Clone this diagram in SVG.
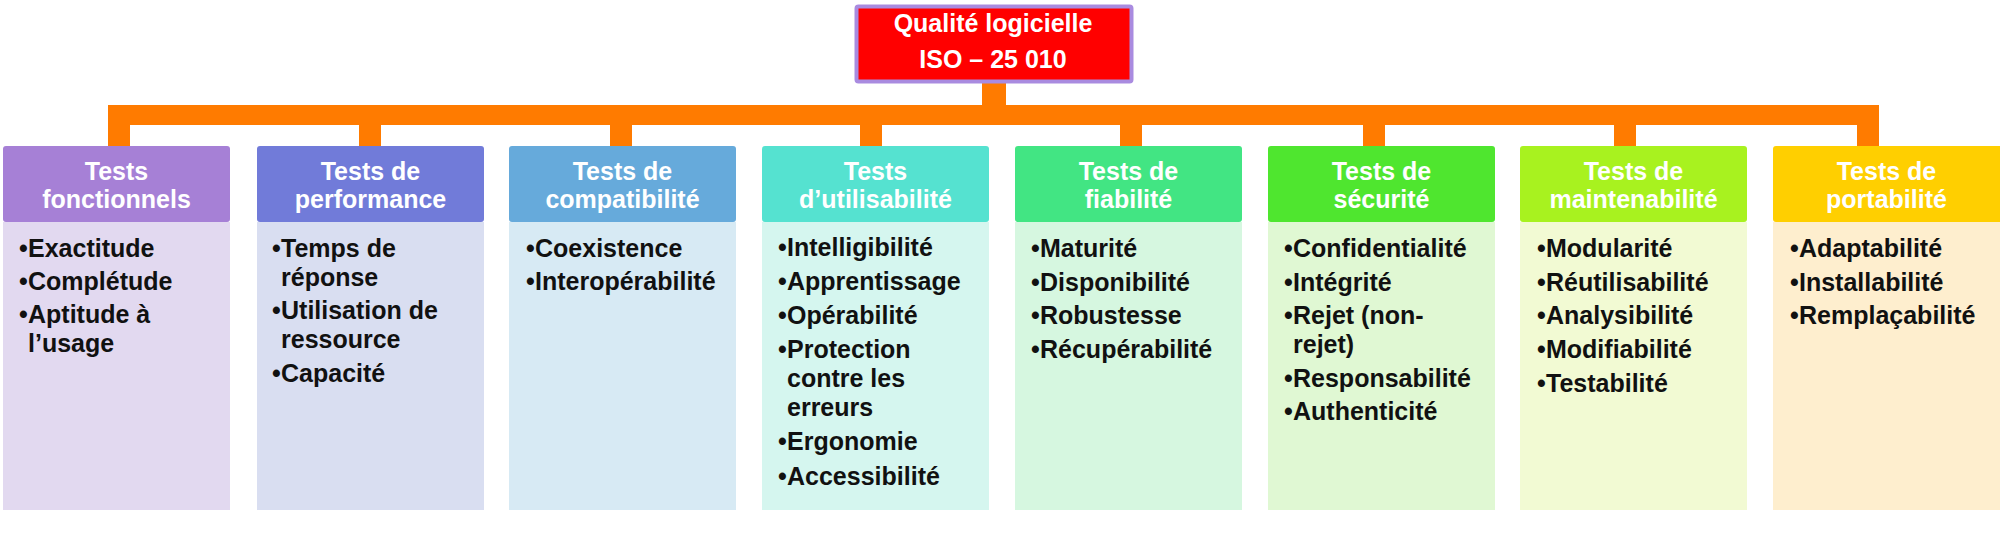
<svg xmlns="http://www.w3.org/2000/svg" width="2000" height="540" viewBox="0 0 2000 540">
<style>
text{font-family:"Liberation Sans",Arial,Helvetica,sans-serif;font-weight:bold;font-size:25px}
.hd{fill:#ffffff;text-anchor:middle}
.bd{fill:#111111}
.con{fill:#FF7B00}
</style>
<rect width="2000" height="540" fill="#ffffff"/>
<g id="connectors">
<rect class="con" x="982" y="82" width="24" height="24"/>
<rect class="con" x="108" y="105" width="1771" height="20"/>
<rect class="con" x="108" y="105" width="22" height="42"/>
<rect class="con" x="359" y="124" width="22" height="23"/>
<rect class="con" x="610" y="124" width="22" height="23"/>
<rect class="con" x="860" y="124" width="22" height="23"/>
<rect class="con" x="1120" y="124" width="22" height="23"/>
<rect class="con" x="1363" y="124" width="22" height="23"/>
<rect class="con" x="1614" y="124" width="22" height="23"/>
<rect class="con" x="1857" y="105" width="22" height="42"/>
</g>
<g id="root">
<rect x="856.5" y="6.5" width="275" height="75" fill="#FF0000" stroke="#A98BE0" stroke-width="4" rx="2"/>
<text class="hd" x="993" y="32">Qualité logicielle</text>
<text class="hd" x="993" y="68">ISO – 25 010</text>
</g>
<g id="n1">
<rect x="3" y="222" width="227" height="288" fill="#E2D9F0"/>
<rect x="3" y="146" width="227" height="76" rx="3" fill="#A680D6"/>
<text class="hd" x="116.5" y="180">Tests</text>
<text class="hd" x="116.5" y="208">fonctionnels</text>
<text class="bd"><tspan x="19" y="257">•</tspan><tspan x="28" y="257">Exactitude</tspan><tspan x="19" y="290">•</tspan><tspan x="28" y="290">Complétude</tspan><tspan x="19" y="323">•</tspan><tspan x="28" y="323">Aptitude à</tspan><tspan x="28" y="352">l’usage</tspan></text>
</g>
<g id="n2">
<rect x="257" y="222" width="227" height="288" fill="#D9DEF1"/>
<rect x="257" y="146" width="227" height="76" rx="3" fill="#717BD9"/>
<text class="hd" x="370.5" y="180">Tests de</text>
<text class="hd" x="370.5" y="208">performance</text>
<text class="bd"><tspan x="272" y="257">•</tspan><tspan x="281" y="257">Temps de</tspan><tspan x="281" y="286">réponse</tspan><tspan x="272" y="319">•</tspan><tspan x="281" y="319">Utilisation de</tspan><tspan x="281" y="348">ressource</tspan><tspan x="272" y="382">•</tspan><tspan x="281" y="382">Capacité</tspan></text>
</g>
<g id="n3">
<rect x="509" y="222" width="227" height="288" fill="#D7EAF4"/>
<rect x="509" y="146" width="227" height="76" rx="3" fill="#66AADB"/>
<text class="hd" x="622.5" y="180">Tests de</text>
<text class="hd" x="622.5" y="208">compatibilité</text>
<text class="bd"><tspan x="526" y="257">•</tspan><tspan x="535" y="257">Coexistence</tspan><tspan x="526" y="290">•</tspan><tspan x="535" y="290">Interopérabilité</tspan></text>
</g>
<g id="n4">
<rect x="762" y="222" width="227" height="288" fill="#D5F6EF"/>
<rect x="762" y="146" width="227" height="76" rx="3" fill="#55E2D0"/>
<text class="hd" x="875.5" y="180">Tests</text>
<text class="hd" x="875.5" y="208">d’utilisabilité</text>
<text class="bd"><tspan x="778" y="256">•</tspan><tspan x="787" y="256">Intelligibilité</tspan><tspan x="778" y="290">•</tspan><tspan x="787" y="290">Apprentissage</tspan><tspan x="778" y="324">•</tspan><tspan x="787" y="324">Opérabilité</tspan><tspan x="778" y="358">•</tspan><tspan x="787" y="358">Protection</tspan><tspan x="787" y="387">contre les</tspan><tspan x="787" y="416">erreurs</tspan><tspan x="778" y="450">•</tspan><tspan x="787" y="450">Ergonomie</tspan><tspan x="778" y="485">•</tspan><tspan x="787" y="485">Accessibilité</tspan></text>
</g>
<g id="n5">
<rect x="1015" y="222" width="227" height="288" fill="#D6F7E0"/>
<rect x="1015" y="146" width="227" height="76" rx="3" fill="#42E583"/>
<text class="hd" x="1128.5" y="180">Tests de</text>
<text class="hd" x="1128.5" y="208">fiabilité</text>
<text class="bd"><tspan x="1031" y="257">•</tspan><tspan x="1040" y="257">Maturité</tspan><tspan x="1031" y="291">•</tspan><tspan x="1040" y="291">Disponibilité</tspan><tspan x="1031" y="324">•</tspan><tspan x="1040" y="324">Robustesse</tspan><tspan x="1031" y="358">•</tspan><tspan x="1040" y="358">Récupérabilité</tspan></text>
</g>
<g id="n6">
<rect x="1268" y="222" width="227" height="288" fill="#E0F8D3"/>
<rect x="1268" y="146" width="227" height="76" rx="3" fill="#4FE62F"/>
<text class="hd" x="1381.5" y="180">Tests de</text>
<text class="hd" x="1381.5" y="208">sécurité</text>
<text class="bd"><tspan x="1284" y="257">•</tspan><tspan x="1293" y="257">Confidentialité</tspan><tspan x="1284" y="291">•</tspan><tspan x="1293" y="291">Intégrité</tspan><tspan x="1284" y="324">•</tspan><tspan x="1293" y="324">Rejet (non-</tspan><tspan x="1293" y="353">rejet)</tspan><tspan x="1284" y="387">•</tspan><tspan x="1293" y="387">Responsabilité</tspan><tspan x="1284" y="420">•</tspan><tspan x="1293" y="420">Authenticité</tspan></text>
</g>
<g id="n7">
<rect x="1520" y="222" width="227" height="288" fill="#F2FAD3"/>
<rect x="1520" y="146" width="227" height="76" rx="3" fill="#A8F21F"/>
<text class="hd" x="1633.5" y="180">Tests de</text>
<text class="hd" x="1633.5" y="208">maintenabilité</text>
<text class="bd"><tspan x="1537" y="257">•</tspan><tspan x="1546" y="257">Modularité</tspan><tspan x="1537" y="291">•</tspan><tspan x="1546" y="291">Réutilisabilité</tspan><tspan x="1537" y="324">•</tspan><tspan x="1546" y="324">Analysibilité</tspan><tspan x="1537" y="358">•</tspan><tspan x="1546" y="358">Modifiabilité</tspan><tspan x="1537" y="392">•</tspan><tspan x="1546" y="392">Testabilité</tspan></text>
</g>
<g id="n8">
<rect x="1773" y="222" width="230" height="288" fill="#FEEECE"/>
<rect x="1773" y="146" width="230" height="76" rx="3" fill="#FFCF00"/>
<text class="hd" x="1886.5" y="180">Tests de</text>
<text class="hd" x="1886.5" y="208">portabilité</text>
<text class="bd"><tspan x="1790" y="257">•</tspan><tspan x="1799" y="257">Adaptabilité</tspan><tspan x="1790" y="291">•</tspan><tspan x="1799" y="291">Installabilité</tspan><tspan x="1790" y="324">•</tspan><tspan x="1799" y="324">Remplaçabilité</tspan></text>
</g>
</svg>
